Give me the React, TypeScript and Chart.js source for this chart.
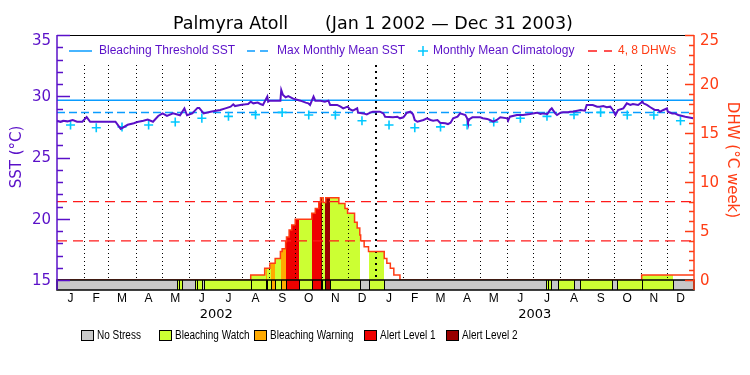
import { useEffect, useRef } from 'react';
import { Chart, registerables } from 'chart.js';
Chart.register(...registerables);

// ---------- DATA ----------
const years = [2002, 2003];
const monthLetters = ['J', 'F', 'M', 'A', 'M', 'J', 'J', 'A', 'S', 'O', 'N', 'D'];
const monthLengths = [31, 28, 31, 30, 31, 30, 31, 31, 30, 31, 30, 31];

// SST (days since Jan 1 2002)
const sstDays = [0, 4, 7, 12, 18, 23, 29, 34, 38, 50, 61, 67, 73, 81, 88, 92, 99, 104, 110, 116, 121, 126, 133, 141, 146, 149, 155, 161, 163, 168, 176, 187, 193, 199, 202, 204, 210, 216, 219, 222, 225, 230, 233, 236, 241, 242, 244, 256, 257, 259, 262, 265, 270, 273, 279, 285, 288, 290, 294, 296, 302, 307, 311, 313, 321, 325, 328, 333, 336, 339, 344, 345, 351, 355, 359, 362, 370, 374, 376, 385, 390, 393, 397, 401, 405, 408, 410, 413, 420, 424, 428, 431, 436, 439, 445, 448, 451, 454, 459, 462, 468, 470, 471, 473, 476, 485, 488, 493, 496, 500, 504, 508, 516, 517, 519, 527, 534, 542, 550, 554, 557, 562, 565, 567, 571, 573, 577, 580, 586, 588, 591, 600, 605, 607, 614, 619, 622, 626, 630, 634, 637, 640, 643, 649, 653, 657, 660, 666, 671, 672, 676, 680, 685, 689, 691, 695, 699, 700, 705, 708, 712, 720, 729];
const sstValues = [28.0, 27.9, 28.0, 27.95, 28.05, 27.92, 27.92, 28.3, 27.92, 27.92, 27.92, 27.92, 27.33, 27.67, 27.8, 27.9, 28.0, 28.1, 27.92, 28.39, 28.6, 28.4, 28.6, 28.45, 29.0, 28.45, 28.6, 29.05, 29.05, 28.6, 28.74, 28.88, 29.01, 29.15, 29.34, 29.2, 29.29, 29.34, 29.37, 29.56, 29.42, 29.48, 29.37, 29.29, 29.97, 29.56, 29.64, 29.64, 30.51, 30.1, 29.91, 30.02, 29.83, 29.75, 29.64, 29.48, 29.42, 29.29, 29.97, 29.64, 29.64, 29.56, 29.64, 29.29, 29.29, 29.15, 29.01, 29.15, 28.93, 28.82, 29.01, 28.66, 28.6, 28.52, 28.66, 28.74, 28.74, 28.6, 28.33, 28.28, 28.33, 28.2, 28.28, 28.66, 28.74, 28.52, 28.06, 27.92, 28.06, 28.2, 28.06, 28.01, 28.06, 27.84, 27.79, 27.73, 27.84, 28.2, 28.33, 28.6, 28.47, 28.2, 27.92, 28.15, 28.28, 28.28, 28.2, 28.15, 28.06, 27.92, 28.06, 28.28, 28.2, 28.01, 28.33, 28.47, 28.47, 28.55, 28.66, 28.55, 28.6, 28.55, 28.88, 29.01, 28.6, 28.47, 28.66, 28.69, 28.69, 28.74, 28.74, 28.88, 28.82, 29.29, 29.29, 29.15, 29.15, 29.2, 29.1, 29.15, 28.88, 28.47, 28.88, 29.01, 29.42, 29.29, 29.37, 29.29, 29.56, 29.42, 29.29, 29.1, 28.88, 28.88, 28.74, 28.88, 29.01, 28.74, 28.6, 28.6, 28.47, 28.33, 28.2];

// Monthly mean climatology (Jan..Dec)
const climatology = [27.65, 27.43, 27.5, 27.65, 27.9, 28.2, 28.36, 28.5, 28.68, 28.47, 28.47, 28.0];
const maxMonthlyMean = 28.68;
const bleachingThreshold = 29.68;

// Degree Heating Weeks (step: value holds from day until next day)
const dhwDays = [0, 222, 238, 244, 250, 256, 258, 262, 263, 266, 269, 273, 292, 296, 300, 302, 305, 308, 323, 330, 333, 341, 344, 347, 348, 352, 357, 375, 378, 382, 386, 393, 670, 730];
const dhwValues = [0, 0.5, 1.2, 1.7, 2.2, 2.9, 3.2, 3.9, 4.4, 5.1, 5.6, 6.2, 6.8, 7.3, 7.9, 8.4, 7.9, 8.4, 7.8, 7.3, 6.8, 5.9, 5.3, 4.6, 4.0, 3.4, 2.9, 2.2, 1.7, 1.2, 0.5, 0, 0.5, 0.5];
const dhwRefLevels = [4, 8];

// Bleaching stress level periods (0 none,1 watch,2 warning,3 alert1,4 alert2)
const stressStart = [0, 137, 140, 143, 158, 161, 166, 169, 222, 239, 241, 245, 250, 257, 262, 277, 292, 302, 304, 307, 313, 347, 357, 375, 560, 563, 566, 574, 593, 599, 636, 642, 670, 706];
const stressEnd = [137, 140, 143, 158, 161, 166, 169, 222, 239, 241, 245, 250, 257, 262, 277, 292, 302, 304, 307, 313, 347, 357, 375, 560, 563, 566, 574, 593, 599, 636, 642, 670, 706, 730];
const stressLevel = [0, 1, 1, 0, 1, 1, 0, 1, 1, 2, 1, 2, 1, 2, 3, 1, 3, 4, 1, 4, 1, 0, 1, 0, 1, 1, 0, 1, 0, 1, 0, 1, 1, 0];
const stressNames = ['No Stress', 'Bleaching Watch', 'Bleaching Warning', 'Alert Level 1', 'Alert Level 2'];

const sstMajorTicks = [15, 20, 25, 30, 35];
const dhwMajorTicks = [0, 5, 10, 15, 20, 25];

// ---------- STYLE ----------
const PURPLE = '#5a10c8';
const ORANGE_RED = '#ff3c14';
const DASH_RED = '#ff1a1a';
const BLUE = '#0a9cff';
const CYAN = '#00c8ff';
const stressColors = ['#c8c8c8', '#ccff33', '#ffaa00', '#ee0000', '#990000'];
const AX_FONT = '"DejaVu Sans", sans-serif';
const LG_FONT = '"Liberation Sans", Arial, sans-serif';

const monthStarts: number[] = [];
let accDays = 0;
years.forEach(() => monthLengths.forEach((len) => { monthStarts.push(accDays); accDays += len; }));
const totalDays = accDays;

function narrowText(ctx: any, text: string, x: number, y: number, sx: number) {
  ctx.save();
  ctx.translate(x, y);
  ctx.scale(sx, 1);
  ctx.fillText(text, 0, 0);
  ctx.restore();
}

const overlay = {
  id: 'overlay',
  beforeDatasetsDraw(chart: any) {
    const { ctx, chartArea: ca, scales } = chart;
    const xs = scales.x, ys = scales.y, y2 = scales.y2;
    ctx.save();
    // DHW fill coloured by stress level
    for (let s = 0; s < stressStart.length; s++) {
      if (stressLevel[s] === 0) continue;
      for (let i = 0; i < dhwDays.length - 1; i++) {
        const a = Math.max(stressStart[s], dhwDays[i]);
        const b = Math.min(stressEnd[s], dhwDays[i + 1]);
        if (b <= a || dhwValues[i] <= 0) continue;
        const x0 = Math.round(xs.getPixelForValue(a));
        const x1 = Math.round(xs.getPixelForValue(b));
        const yt = Math.round(y2.getPixelForValue(dhwValues[i]));
        const yb = Math.round(y2.getPixelForValue(0));
        ctx.fillStyle = stressColors[stressLevel[s]];
        ctx.fillRect(x0, yt, x1 - x0, yb - yt);
      }
    }
    // dotted month grid
    const gTop = ca.top + 30;
    const gBot = ys.getPixelForValue(15);
    ctx.strokeStyle = '#000';
    for (let m = 1; m < monthStarts.length; m++) {
      const px = Math.round(xs.getPixelForValue(monthStarts[m]));
      const yearLine = m % 12 === 0;
      ctx.lineWidth = yearLine ? 2 : 1;
      ctx.setLineDash(yearLine ? [2, 4] : [1, 3]);
      ctx.beginPath();
      ctx.moveTo(yearLine ? px : px + 0.5, gTop);
      ctx.lineTo(yearLine ? px : px + 0.5, gBot);
      ctx.stroke();
    }
    ctx.setLineDash([]);
    ctx.restore();
  },
  afterDatasetsDraw(chart: any) {
    const { ctx, chartArea: ca, scales } = chart;
    const xs = scales.x, ys = scales.y, y2 = scales.y2;
    ctx.save();
    // stress bar
    const bTop = Math.round(ys.getPixelForValue(15));
    const bBot = Math.round(ca.bottom);
    for (let s = 0; s < stressStart.length; s++) {
      const x0 = Math.round(xs.getPixelForValue(stressStart[s]));
      const x1 = Math.round(xs.getPixelForValue(stressEnd[s]));
      ctx.fillStyle = stressColors[stressLevel[s]];
      ctx.fillRect(x0, bTop, x1 - x0, bBot - bTop);
    }
    ctx.strokeStyle = '#000';
    ctx.lineWidth = 1;
    for (let s = 1; s < stressStart.length; s++) {
      const px = Math.round(xs.getPixelForValue(stressStart[s])) + 0.5;
      ctx.beginPath();
      ctx.moveTo(px, bTop);
      ctx.lineTo(px, bBot);
      ctx.stroke();
    }
    ctx.lineWidth = 1.5;
    ctx.strokeRect(ca.left, bTop, ca.right - ca.left, bBot - bTop);

    // top border
    ctx.strokeStyle = '#000';
    ctx.lineWidth = 1.2;
    ctx.beginPath();
    ctx.moveTo(ca.left, ca.top + 0.5);
    ctx.lineTo(ca.right, ca.top + 0.5);
    ctx.stroke();

    // left axis
    ctx.strokeStyle = PURPLE;
    ctx.lineWidth = 1.5;
    ctx.beginPath();
    ctx.moveTo(ca.left, ca.top);
    ctx.lineTo(ca.left, ca.bottom);
    ctx.stroke();
    for (let v = sstMajorTicks[0]; v <= sstMajorTicks[sstMajorTicks.length - 1]; v++) {
      const py = Math.round(ys.getPixelForValue(v)) + 0.5;
      const len = sstMajorTicks.includes(v) ? 13 : 6;
      ctx.beginPath();
      ctx.moveTo(ca.left, py);
      ctx.lineTo(ca.left + len, py);
      ctx.stroke();
    }
    ctx.fillStyle = PURPLE;
    ctx.font = '15px ' + AX_FONT;
    ctx.textAlign = 'right';
    ctx.textBaseline = 'middle';
    sstMajorTicks.forEach((v) => {
      const py = Math.max(ys.getPixelForValue(v) + 1, ca.top + 6);
      ctx.fillText(String(v), 51, py);
    });
    ctx.save();
    ctx.translate(17, 157);
    ctx.rotate(-Math.PI / 2);
    ctx.textAlign = 'center';
    ctx.fillText('SST (°C)', 0, 0);
    ctx.restore();

    // right axis
    ctx.strokeStyle = ORANGE_RED;
    ctx.lineWidth = 1.5;
    ctx.beginPath();
    ctx.moveTo(ca.right, ca.top);
    ctx.lineTo(ca.right, ca.bottom);
    ctx.stroke();
    for (let v = dhwMajorTicks[0]; v <= dhwMajorTicks[dhwMajorTicks.length - 1]; v++) {
      const py = Math.round(y2.getPixelForValue(v)) + 0.5;
      const len = dhwMajorTicks.includes(v) ? 9 : 5;
      ctx.beginPath();
      ctx.moveTo(ca.right, py);
      ctx.lineTo(ca.right - len, py);
      ctx.stroke();
    }
    ctx.fillStyle = ORANGE_RED;
    ctx.textAlign = 'left';
    dhwMajorTicks.forEach((v) => {
      const py = Math.max(y2.getPixelForValue(v) + 1, ca.top + 6);
      ctx.fillText(String(v), 700, py);
    });
    ctx.save();
    ctx.translate(732, 160);
    ctx.rotate(Math.PI / 2);
    ctx.textAlign = 'center';
    ctx.fillText('DHW (°C week)', 0, 0);
    ctx.restore();

    // month + year labels
    ctx.fillStyle = '#000';
    ctx.textAlign = 'center';
    ctx.font = '12px ' + LG_FONT;
    monthStarts.forEach((st, i) => {
      const m = i % 12;
      ctx.fillText(monthLetters[m], xs.getPixelForValue(st + monthLengths[m] / 2), 299);
    });
    ctx.font = '13px ' + AX_FONT;
    years.forEach((yr, yi) => {
      const mid = (monthStarts[yi * 12] + (yi + 1 < years.length ? monthStarts[(yi + 1) * 12] : totalDays)) / 2;
      ctx.fillText(String(yr), xs.getPixelForValue(mid), 315);
    });

    // title
    ctx.font = '17.5px ' + AX_FONT;
    ctx.textAlign = 'left';
    ctx.textBaseline = 'alphabetic';
    ctx.fillText('Palmyra Atoll', 173, 29);
    ctx.fillText('(Jan 1 2002 \u2014 Dec 31 2003)', 325, 29);

    // top legend
    const ly = 51;
    ctx.textBaseline = 'middle';
    ctx.font = '12px ' + LG_FONT;
    ctx.strokeStyle = BLUE;
    ctx.lineWidth = 1.5;
    ctx.beginPath(); ctx.moveTo(69, ly); ctx.lineTo(92, ly); ctx.stroke();
    ctx.fillStyle = PURPLE;
    ctx.fillText('Bleaching Threshold SST', 99, ly);
    ctx.beginPath(); ctx.moveTo(247, ly); ctx.lineTo(255, ly); ctx.moveTo(260, ly); ctx.lineTo(268, ly); ctx.stroke();
    ctx.fillText('Max Monthly Mean SST', 277, ly);
    ctx.strokeStyle = CYAN;
    ctx.lineWidth = 1.5;
    ctx.beginPath(); ctx.moveTo(418, ly); ctx.lineTo(428, ly); ctx.moveTo(423, ly - 5); ctx.lineTo(423, ly + 5); ctx.stroke();
    ctx.fillText('Monthly Mean Climatology', 433, ly);
    ctx.strokeStyle = DASH_RED;
    ctx.beginPath(); ctx.moveTo(588, ly); ctx.lineTo(597, ly); ctx.moveTo(604, ly); ctx.lineTo(612, ly); ctx.stroke();
    ctx.fillStyle = ORANGE_RED;
    ctx.fillText('4, 8 DHWs', 618, ly);

    // bottom legend
    const boxX = [81, 159, 254, 364, 446];
    ctx.font = '12.5px ' + LG_FONT;
    ctx.textAlign = 'left';
    ctx.lineWidth = 1;
    stressNames.forEach((name, i) => {
      ctx.fillStyle = stressColors[i];
      ctx.fillRect(boxX[i], 330, 12, 10);
      ctx.strokeStyle = '#000';
      ctx.strokeRect(boxX[i] + 0.5, 330.5, 12, 10);
      ctx.fillStyle = '#000';
      narrowText(ctx, name, boxX[i] + 16, 336, 0.8);
    });
    ctx.restore();
  },
};

export default function App() {
  const ref = useRef<HTMLCanvasElement | null>(null);
  useEffect(() => {
    if (!ref.current) return;
    const climPts: { x: number; y: number }[] = [];
    years.forEach((_, yi) => climatology.forEach((v, m) => {
      climPts.push({ x: monthStarts[yi * 12 + m] + monthLengths[m] / 2, y: v });
    }));
    const chart = new Chart(ref.current, {
      type: 'line',
      data: {
        datasets: [
          {
            label: 'SST',
            data: sstDays.map((d, i) => ({ x: d, y: sstValues[i] })),
            borderColor: PURPLE, borderWidth: 2, pointRadius: 0, yAxisID: 'y',
          },
          {
            label: 'Monthly Mean Climatology',
            data: climPts,
            showLine: false, pointStyle: 'cross', pointRadius: 4.5, pointBorderWidth: 1.6,
            borderColor: CYAN, backgroundColor: CYAN, yAxisID: 'y',
          },
          {
            label: 'Bleaching Threshold SST',
            data: [{ x: 0, y: bleachingThreshold }, { x: totalDays, y: bleachingThreshold }],
            borderColor: BLUE, borderWidth: 1.5, pointRadius: 0, yAxisID: 'y',
          },
          {
            label: 'Max Monthly Mean SST',
            data: [{ x: 0, y: maxMonthlyMean }, { x: totalDays, y: maxMonthlyMean }],
            borderColor: BLUE, borderWidth: 1.5, borderDash: [8, 4], pointRadius: 0, yAxisID: 'y',
          },
          {
            label: 'DHW',
            data: dhwDays.map((d, i) => ({ x: d, y: dhwValues[i] })),
            borderColor: ORANGE_RED, borderWidth: 1.5, pointRadius: 0, stepped: true, yAxisID: 'y2',
          },
          ...dhwRefLevels.map((lv) => ({
            label: lv + ' DHW',
            data: [{ x: 0, y: lv }, { x: totalDays, y: lv }],
            borderColor: DASH_RED, borderWidth: 1.2, borderDash: [10, 6], pointRadius: 0, yAxisID: 'y2',
          })),
        ],
      },
      options: {
        animation: false,
        responsive: false,
        events: [],
        layout: { padding: { left: 57, right: 56, top: 35, bottom: 85 } },
        plugins: { legend: { display: false }, title: { display: false }, tooltip: { enabled: false } },
        scales: {
          x: { type: 'linear', min: 0, max: totalDays, display: false },
          y: { type: 'linear', min: 15 - 10 / 12.25, max: 35, display: false },
          y2: { type: 'linear', min: -10 / 9.8, max: 25, display: false },
        },
      },
      plugins: [overlay],
    } as any);
    return () => chart.destroy();
  }, []);
  return (
    <div style={{ position: 'fixed', left: 0, top: 0, width: 750, height: 375, background: '#fff' }}>
      <canvas ref={ref} width={750} height={375} style={{ display: 'block' }} />
    </div>
  );
}
